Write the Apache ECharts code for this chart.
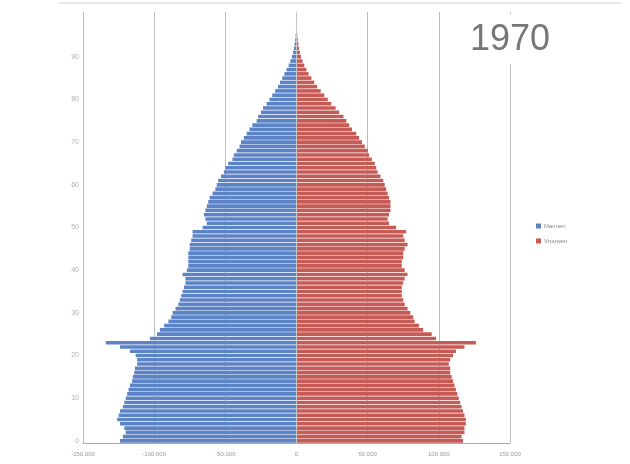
<!DOCTYPE html>
<html>
<head>
<meta charset="utf-8">
<script src="https://cdn.jsdelivr.net/npm/echarts@6/dist/echarts.min.js"></script>
<style>html,body{margin:0;padding:0;background:#fff}#c{width:630px;height:464px}</style>
</head>
<body>
<div id="c"></div>
<script>
const ages = Array.from({length: 101}, (_, i) => String(i));
// values in thousands
const menK = [
  124,122,120,121,124,126,125,124,122,121,
  120,119,118,117,115.5,115,114,113.5,112,112,
  113,117,124,134,103,98,96,93,90,88,
  87,85,83,82,81,80,79,78,78,80,
  77,76,76,76,76,75,75,74,73,73,
  66,63,64,65,64,63,62,61,59,57,
  56,55,53,51,50,48,45,44,42,40,
  39,37,35,33,31,28,27,25,23.5,21,
  19,17,15,13,11.6,10,8.5,7,5.5,4.3,
  3.2,2.4,1.8,1.3,0.9,0.6,0.4,0.3,0.2,0.1,
  0.1
];
const womenK = [
  117,116,118,118,119,119,118,117,116,115,
  114,113,112,111,110,109,108,108,107,108,
  110,112,118,126,98,95,89,86,83,82,
  80,78,76,75,74,74,74,75,76,78,
  76,74,74,75,75,76,78,76,75,77,
  70,65,64,65,66,66,66,65,64,63,
  62,61,59,57,56,55,53,51,50,48,
  46,44,42,39,37,35,33,30,27.5,24.5,
  22,19.5,17,14.5,12.5,10.5,8.5,7,5.5,4.2,
  3.2,2.4,1.8,1.3,0.9,0.6,0.4,0.3,0.2,0.1,
  0.1
];
const xTicks = [-150000, -100000, -50000, 0, 50000, 100000, 150000];
const legendNames = ['Mannen', 'Vrouwen'];
const yearTitle = '1970';

const men = menK.map(v => -v * 1000);
const women = womenK.map(v => v * 1000);

function fmt(v) {
  const s = String(Math.abs(v)).replace(/\B(?=(\d{3})+(?!\d))/g, '.');
  return (v < 0 ? '-' : '') + s;
}

const chart = echarts.init(document.getElementById('c'));
chart.setOption({
  animation: false,
  backgroundColor: '#fff',
  textStyle: {fontFamily: 'Liberation Sans, Arial, sans-serif'},
  title: {
    text: yearTitle,
    left: 460, top: 14,
    padding: [8, 10, 6, 10],
    backgroundColor: '#fff',
    textStyle: {fontSize: 36, fontWeight: 'normal', color: '#777', fontFamily: 'Liberation Sans, Arial, sans-serif'},
    z: 20
  },
  legend: {
    data: legendNames,
    orient: 'vertical',
    left: 531, top: 218,
    itemWidth: 5, itemHeight: 5, itemGap: 9,
    icon: 'rect',
    textStyle: {fontSize: 6, color: '#888', padding: [0, 0, 0, -2]}
  },
  graphic: [{
    type: 'line', shape: {x1: 58, y1: 3, x2: 622, y2: 3},
    style: {stroke: '#d4d4d4', lineWidth: 1}
  }],
  grid: {left: 83, right: 120, top: 12, bottom: 21, containLabel: false},
  xAxis: {
    type: 'value',
    min: xTicks[0], max: xTicks[xTicks.length - 1], interval: 50000,
    axisLine: {show: true, lineStyle: {color: '#aaa'}},
    axisTick: {show: false},
    splitLine: {show: true, lineStyle: {color: '#bdbdbd', width: 1}},
    axisLabel: {fontSize: 6, color: '#999', margin: 8, formatter: fmt}
  },
  yAxis: {
    type: 'category',
    data: ages,
    z: 10,
    axisLine: {show: true, onZero: true, lineStyle: {color: '#c8c8c8'}},
    axisTick: {show: false},
    axisLabel: {
      fontSize: 7, color: '#b0b0b0', margin: 4,
      interval: (i) => i % 10 === 0 && i < 100
    },
    splitLine: {show: false}
  },
  series: [
    {
      name: legendNames[0], type: 'bar', stack: 'p', data: men,
      barCategoryGap: '15%',
      itemStyle: {color: '#5b83c6'}
    },
    {
      name: legendNames[1], type: 'bar', stack: 'p', data: women,
      barCategoryGap: '15%',
      itemStyle: {color: '#c65b56'}
    }
  ]
});
</script>
</body>
</html>
